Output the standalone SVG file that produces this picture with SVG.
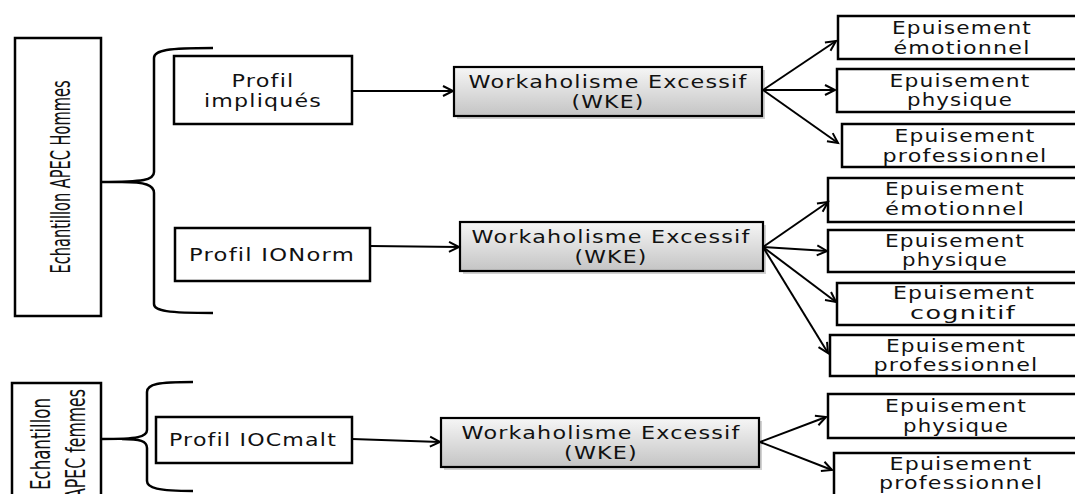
<svg xmlns="http://www.w3.org/2000/svg" width="1075" height="494" viewBox="0 0 1075 494">
<style>
.box{fill:#fff;stroke:#000;stroke-width:2.5}
.wke{fill:url(#g);stroke:#000;stroke-width:2.2}
.sh{fill:#000;opacity:0.18}
.t{font-family:"DejaVu Sans","Verdana",sans-serif;font-size:18.5px;letter-spacing:1px;fill:#111;text-anchor:middle}
.v{font-family:"Liberation Sans Narrow","DejaVu Sans Condensed","Liberation Sans",sans-serif;font-size:26px;fill:#111;text-anchor:middle}
.c{fill:none;stroke:#000;stroke-width:2;marker-end:url(#ah)}
.br{fill:none;stroke:#000;stroke-width:2.5}
</style>
<defs>
<linearGradient id="g" x1="0" y1="0" x2="0" y2="1">
<stop offset="0" stop-color="#f6f6f6"/>
<stop offset="1" stop-color="#c4c4c4"/>
</linearGradient>
<marker id="ah" markerUnits="userSpaceOnUse" markerWidth="16" markerHeight="16" viewBox="-3 -3 16 16" refX="10" refY="5" orient="auto" overflow="visible">
<path d="M0,0 L10,5 L0,10" fill="none" stroke="#000" stroke-width="2"/>
</marker>
</defs>
<rect width="1075" height="494" fill="#fff"/>

<g id="hommes">
<rect class="box" x="15" y="38" width="86" height="278"/>
<text class="v" transform="translate(70,177) rotate(-90)" textLength="193" lengthAdjust="spacingAndGlyphs">Echantillon APEC Hommes</text>
</g>
<g id="brace-hommes">
<path class="br" d="M213,48 C168,48 154,50 154,58 L154,172 C154,180 144,182 101,182 M122,182 C145,182 154,185 154,193 L154,304 C154,311 168,313 213,313"/>
</g>
<g id="femmes">
<rect class="box" x="12" y="383" width="89" height="120"/>
<text class="v" transform="translate(50,444) rotate(-90)" textLength="92" lengthAdjust="spacingAndGlyphs">Echantillon</text>
<text class="v" transform="translate(85,444) rotate(-90)" textLength="110" lengthAdjust="spacingAndGlyphs">APEC femmes</text>
</g>
<g id="brace-femmes">
<path class="br" d="M193,382 C158,382 147,384 147,392 L147,430 C147,437 138,439 101,439 M122,439 C140,439 147,441 147,448 L147,481 C147,488 158,491 193,491"/>
</g>

<g id="profil-impliques">
<rect class="box" x="174" y="56" width="178" height="68"/>
<text class="t" x="263" y="87" textLength="63" lengthAdjust="spacingAndGlyphs">Profil</text>
<text class="t" x="263" y="107" textLength="118" lengthAdjust="spacingAndGlyphs">impliqués</text>
</g>
<g id="profil-ionorm">
<rect class="box" x="175" y="228" width="195" height="53"/>
<text class="t" x="272" y="261" textLength="166" lengthAdjust="spacingAndGlyphs">Profil IONorm</text>
</g>
<g id="profil-iocmalt">
<rect class="box" x="156" y="417" width="196" height="46"/>
<text class="t" x="253" y="446" textLength="168" lengthAdjust="spacingAndGlyphs">Profil IOCmalt</text>
</g>

<g id="wke1">
<rect class="sh" x="457" y="70" width="308" height="49"/>
<rect class="wke" x="454" y="67" width="308" height="49"/>
<text class="t" x="608" y="88" textLength="279" lengthAdjust="spacingAndGlyphs">Workaholisme Excessif</text>
<text class="t" x="608" y="108" textLength="73" lengthAdjust="spacingAndGlyphs">(WKE)</text>
</g>
<g id="wke2">
<rect class="sh" x="463" y="225" width="303" height="49"/>
<rect class="wke" x="460" y="222" width="303" height="49"/>
<text class="t" x="611" y="243" textLength="279" lengthAdjust="spacingAndGlyphs">Workaholisme Excessif</text>
<text class="t" x="611" y="263" textLength="73" lengthAdjust="spacingAndGlyphs">(WKE)</text>
</g>
<g id="wke3">
<rect class="sh" x="444" y="421" width="318" height="49"/>
<rect class="wke" x="441" y="418" width="318" height="49"/>
<text class="t" x="601" y="439" textLength="279" lengthAdjust="spacingAndGlyphs">Workaholisme Excessif</text>
<text class="t" x="601" y="459" textLength="74" lengthAdjust="spacingAndGlyphs">(WKE)</text>
</g>

<g id="g1-emotionnel">
<rect class="box" x="838" y="16" width="250" height="43"/>
<text class="t" x="962" y="34" textLength="140" lengthAdjust="spacingAndGlyphs">Epuisement</text>
<text class="t" x="962" y="54" textLength="137" lengthAdjust="spacingAndGlyphs">émotionnel</text>
</g>
<g id="g1-physique">
<rect class="box" x="837" y="69" width="250" height="43"/>
<text class="t" x="960" y="87" textLength="141" lengthAdjust="spacingAndGlyphs">Epuisement</text>
<text class="t" x="960" y="106" textLength="106" lengthAdjust="spacingAndGlyphs">physique</text>
</g>
<g id="g1-professionnel">
<rect class="box" x="842" y="124" width="250" height="43"/>
<text class="t" x="965" y="142" textLength="141" lengthAdjust="spacingAndGlyphs">Epuisement</text>
<text class="t" x="965" y="162" textLength="165" lengthAdjust="spacingAndGlyphs">professionnel</text>
</g>

<g id="g2-emotionnel">
<rect class="box" x="828" y="178" width="250" height="44"/>
<text class="t" x="955" y="195" textLength="140" lengthAdjust="spacingAndGlyphs">Epuisement</text>
<text class="t" x="955" y="215" textLength="140" lengthAdjust="spacingAndGlyphs">émotionnel</text>
</g>
<g id="g2-physique">
<rect class="box" x="828" y="230" width="250" height="42"/>
<text class="t" x="955" y="247" textLength="140" lengthAdjust="spacingAndGlyphs">Epuisement</text>
<text class="t" x="955" y="266" textLength="106" lengthAdjust="spacingAndGlyphs">physique</text>
</g>
<g id="g2-cognitif">
<rect class="box" x="837" y="283" width="250" height="42"/>
<text class="t" x="964" y="299" textLength="142" lengthAdjust="spacingAndGlyphs">Epuisement</text>
<text class="t" x="963" y="319" textLength="106" lengthAdjust="spacingAndGlyphs">cognitif</text>
</g>
<g id="g2-professionnel">
<rect class="box" x="830" y="335" width="250" height="41"/>
<text class="t" x="956" y="352" textLength="140" lengthAdjust="spacingAndGlyphs">Epuisement</text>
<text class="t" x="956" y="371" textLength="165" lengthAdjust="spacingAndGlyphs">professionnel</text>
</g>

<g id="g3-physique">
<rect class="box" x="828" y="394" width="250" height="44"/>
<text class="t" x="956" y="412" textLength="142" lengthAdjust="spacingAndGlyphs">Epuisement</text>
<text class="t" x="956" y="432" textLength="106" lengthAdjust="spacingAndGlyphs">physique</text>
</g>
<g id="g3-professionnel">
<rect class="box" x="834" y="453" width="250" height="50"/>
<text class="t" x="961" y="470" textLength="143" lengthAdjust="spacingAndGlyphs">Epuisement</text>
<text class="t" x="961" y="489" textLength="164" lengthAdjust="spacingAndGlyphs">professionnel</text>
</g>

<g id="connectors">
<line class="c" x1="352" y1="91" x2="453" y2="91"/>
<line class="c" x1="370" y1="246" x2="459" y2="247"/>
<line class="c" x1="352" y1="439" x2="440" y2="442"/>
<line class="c" x1="763" y1="90" x2="836" y2="41"/>
<line class="c" x1="763" y1="90" x2="835" y2="90"/>
<line class="c" x1="763" y1="90" x2="838" y2="143"/>
<line class="c" x1="763" y1="247" x2="828" y2="202"/>
<line class="c" x1="763" y1="247" x2="827" y2="251"/>
<line class="c" x1="763" y1="247" x2="836" y2="302"/>
<line class="c" x1="763" y1="247" x2="828" y2="353"/>
<line class="c" x1="760" y1="442" x2="826" y2="417"/>
<line class="c" x1="760" y1="442" x2="832" y2="470"/>
</g>
</svg>
